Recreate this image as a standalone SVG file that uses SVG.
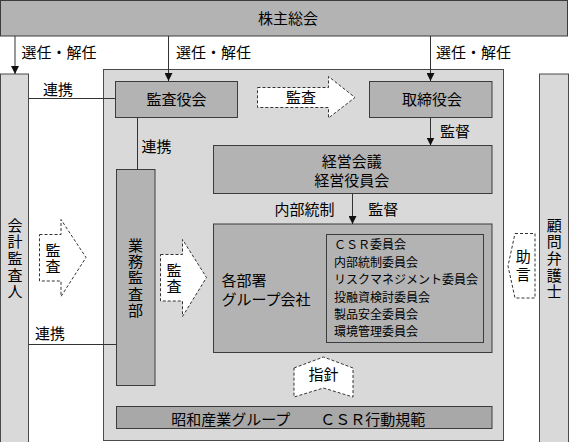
<svg xmlns="http://www.w3.org/2000/svg" width="569" height="442" viewBox="0 0 569 442">
<style>
.box{fill:#b3b3b3;stroke:#3c3c3c;stroke-width:1}
.dark{fill:#a8a8a8;stroke:#3c3c3c;stroke-width:1}
.light{fill:#d9d9d9;stroke:#4a4a4a;stroke-width:1}
.dash{fill:#ffffff;stroke:#333333;stroke-width:1;stroke-dasharray:3 2}
.ln{stroke:#333333;stroke-width:1;fill:none}
.t{font-family:"Noto Sans CJK JP","Noto Sans CJK SC",sans-serif;font-size:15px;fill:#000000}
.s{font-size:12px}
.m{text-anchor:middle}
.v{writing-mode:vertical-rl}
</style>
<defs>
<marker id="ah" markerUnits="userSpaceOnUse" markerWidth="8" markerHeight="8" refX="8" refY="4" orient="auto">
<path d="M0,0 L8,4 L0,8 z" fill="#111111"/>
</marker>
</defs>

<g id="main-frame"><rect class="light" x="103.5" y="69.5" width="400" height="371"/></g>

<g id="shareholders">
<rect class="box" x="0.5" y="0.5" width="567" height="35.5"/>
<text class="t m" x="288" y="23.8">株主総会</text>
</g>

<g id="auditor">
<rect class="light" x="0.5" y="74" width="28" height="370"/>
<text class="t v" x="15" y="217.5" style="letter-spacing:1.7px">会計監査人</text>
</g>

<g id="lawyer">
<rect class="light" x="539.5" y="74" width="29" height="370"/>
<text class="t v" x="554.3" y="217.5" style="letter-spacing:1.7px">顧問弁護士</text>
</g>

<g id="kansayakukai">
<rect class="box" x="115.5" y="81.5" width="122" height="36"/>
<text class="t m" x="176.5" y="104.5">監査役会</text>
</g>

<g id="torishimariyakukai">
<rect class="box" x="369.5" y="81.5" width="122.5" height="36"/>
<text class="t m" x="432" y="104.5">取締役会</text>
</g>

<g id="keiei">
<rect class="box" x="213.5" y="145.5" width="278.5" height="48"/>
<text class="t m"><tspan x="351.7" y="167.2">経営会議</tspan><tspan x="351.7" y="186.2">経営役員会</tspan></text>
</g>

<g id="kakubusho">
<rect class="box" x="213.5" y="224" width="278.5" height="128.5"/>
<text class="t"><tspan x="221.5" y="286">各部署</tspan><tspan x="221.5" y="305">グループ会社</tspan></text>
</g>

<g id="committees">
<rect class="box" x="326.5" y="234.5" width="157" height="108"/>
<text class="t s" x="334" y="249.3">ＣＳＲ委員会</text>
<text class="t s" x="334" y="266.6">内部統制委員会</text>
<text class="t s" x="334" y="284.3">リスクマネジメント委員会</text>
<text class="t s" x="334" y="302">投融資検討委員会</text>
<text class="t s" x="334" y="319.3">製品安全委員会</text>
<text class="t s" x="334" y="336.3">環境管理委員会</text>
</g>

<g id="gyomukansabu">
<rect class="box" x="116.5" y="169.5" width="38.5" height="216"/>
<text class="t v" x="135.5" y="237.5" style="letter-spacing:1.4px">業務監査部</text>
</g>

<g id="code">
<rect class="dark" x="116.5" y="406.5" width="375.5" height="22"/>
<text class="t m" x="298.3" y="424.5">昭和産業グループ　　ＣＳＲ行動規範</text>
</g>

<g id="arrow-audit-top">
<polygon class="dash" points="257.5,87.5 328.5,87.5 328.5,76.5 355,97.5 328.5,118 328.5,107.5 257.5,107.5"/>
<text class="t m" x="301" y="102.5">監査</text>
</g>

<g id="arrow-audit-left">
<polygon class="dash" points="39.5,234.5 61,234.5 61,219.5 86,257.5 61,296.5 61,281 39.5,281"/>
<text class="t v" x="53" y="243" style="letter-spacing:1px">監査</text>
</g>

<g id="arrow-audit-inner">
<polygon class="dash" points="160.5,254.5 182.5,254.5 182.5,239.5 206.5,277.5 182.5,316.5 182.5,301 160.5,301"/>
<text class="t v" x="174" y="262.5" style="letter-spacing:1px">監査</text>
</g>

<g id="arrow-advice">
<polygon class="dash" points="515,233.5 535,233.5 535,298 515,298 508,266"/>
<text class="t v" x="523.3" y="249" style="letter-spacing:3.3px">助言</text>
</g>

<g id="arrow-guideline">
<polygon class="dash" points="294,368 323.5,357 353,368 353,397 323.5,388 294,397"/>
<text class="t m" x="323.5" y="379.8">指針</text>
</g>

<g id="connectors">
<line class="ln" x1="15" y1="36" x2="15" y2="74" marker-end="url(#ah)"/>
<line class="ln" x1="168.5" y1="36" x2="168.5" y2="81" marker-end="url(#ah)"/>
<line class="ln" x1="430.5" y1="36" x2="430.5" y2="81" marker-end="url(#ah)"/>
<line class="ln" x1="430.5" y1="117.5" x2="430.5" y2="145.5" marker-end="url(#ah)"/>
<line class="ln" x1="352.5" y1="193.5" x2="352.5" y2="224" marker-end="url(#ah)"/>
<line class="ln" x1="28.5" y1="98.5" x2="115.5" y2="98.5"/>
<line class="ln" x1="137.5" y1="117.5" x2="137.5" y2="169.5"/>
<line class="ln" x1="28.5" y1="344.5" x2="116.5" y2="344.5"/>
<text class="t" x="21.5" y="58.2">選任・解任</text>
<text class="t" x="176" y="58.2">選任・解任</text>
<text class="t" x="436" y="58.2">選任・解任</text>
<text class="t" x="43" y="94.8">連携</text>
<text class="t" x="141.5" y="151.8">連携</text>
<text class="t" x="35" y="338.8">連携</text>
<text class="t" x="440" y="136.5">監督</text>
<text class="t m" x="304.5" y="214.5">内部統制</text>
<text class="t m" x="383.2" y="214.5">監督</text>
</g>
</svg>
